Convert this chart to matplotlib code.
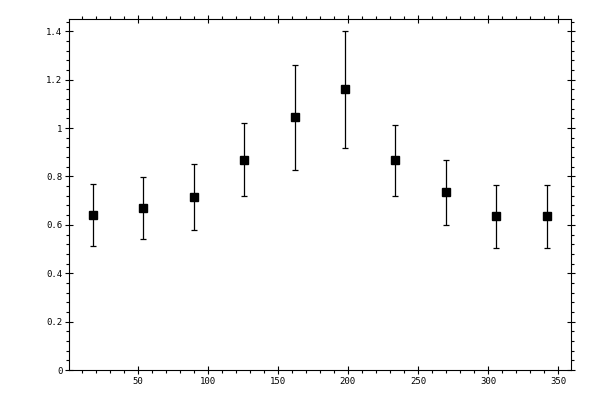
import matplotlib
matplotlib.use("Agg")
import matplotlib.pyplot as plt
from matplotlib.ticker import MultipleLocator, FuncFormatter

x = [18, 54, 90, 126, 162, 198, 234, 270, 306, 342]
y = [0.639, 0.668, 0.716, 0.870, 1.044, 1.161, 0.866, 0.734, 0.635, 0.635]
err = [0.128, 0.128, 0.137, 0.149, 0.216, 0.242, 0.146, 0.134, 0.129, 0.129]

plt.rcParams['font.family'] = ['DejaVu Sans Mono']
fig = plt.figure(figsize=(6, 4), dpi=100)
ax = fig.add_axes([0.115, 0.075, 0.836, 0.877])

ax.errorbar(x, y, yerr=err, fmt='s', color='black', markersize=5.2,
            elinewidth=0.9, capsize=2.5, capthick=0.9, ecolor='black')

ax.set_xlim(1, 359)
ax.set_ylim(0, 1.45)
ax.xaxis.set_major_locator(MultipleLocator(50))
ax.xaxis.set_minor_locator(MultipleLocator(10))
ax.yaxis.set_major_locator(MultipleLocator(0.2))
ax.yaxis.set_minor_locator(MultipleLocator(0.04))
ax.yaxis.set_major_formatter(FuncFormatter(lambda v, p: f"{v:g}"))

for s in ax.spines.values():
    s.set_linewidth(0.8)

ax.tick_params(which='major', direction='inout', length=5.5, width=0.8,
               top=True, right=True, labelsize=6.5, pad=2)
ax.tick_params(which='minor', direction='out', length=2.5, width=0.8,
               top=True, right=True)

fig.savefig('out.png', dpi=100)
